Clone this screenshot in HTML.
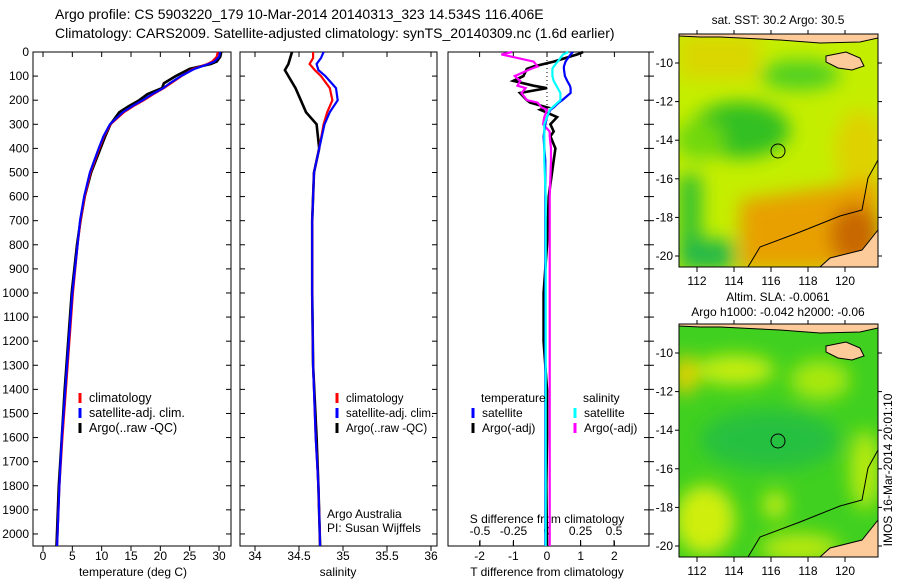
<!DOCTYPE html>
<html><head><meta charset="utf-8">
<style>
body{margin:0;background:#fff;}
svg text{font-family:"Liberation Sans",sans-serif;fill:#000;}
</style></head>
<body>
<svg id="fig" width="900" height="580" viewBox="0 0 900 580" xmlns="http://www.w3.org/2000/svg">
<defs>
<filter id="bl" x="-50%" y="-50%" width="200%" height="200%"><feGaussianBlur stdDeviation="9"/></filter>
<clipPath id="c1"><rect x="679" y="34" width="199" height="233"/></clipPath>
<clipPath id="c2"><rect x="679" y="324" width="199" height="233"/></clipPath>
</defs>
<text x="55" y="19" font-size="14">Argo profile: CS 5903220_179 10-Mar-2014 20140313_323 14.534S 116.406E</text>
<text x="55" y="38" font-size="14">Climatology: CARS2009. Satellite-adjusted climatology: synTS_20140309.nc (1.6d earlier)</text>
<g id="panels"></g>

<g>
<text x="778" y="24" font-size="12" text-anchor="middle">sat. SST: 30.2 Argo: 30.5</text>
<g clip-path="url(#c1)">
<rect x="679" y="34" width="199" height="233" fill="#c4ee00"/>
<g filter="url(#bl)">
<rect x="679" y="34" width="80" height="45" fill="#f0c000" opacity="0.5"/>
<ellipse cx="740" cy="130" rx="50" ry="28" fill="#30c020"/>
<ellipse cx="700" cy="140" rx="25" ry="20" fill="#70d810"/>
<ellipse cx="860" cy="150" rx="25" ry="40" fill="#f0c000" opacity="0.6"/>
<path d="M740 200 L880 180 L880 270 L740 270 Z" fill="#e8a000"/>
<ellipse cx="855" cy="235" rx="25" ry="30" fill="#c86800"/>
<rect x="679" y="175" width="22" height="95" fill="#30c030"/>
<rect x="679" y="240" width="55" height="30" fill="#20b848"/>
<ellipse cx="800" cy="75" rx="40" ry="15" fill="#50d020"/>
</g>
<path d="M679 34 L878 34 L878 38 L860 42 L820 43 L780 40 L760 39 L720 37 L700 37 L679 36Z" fill="#fccb99" stroke="#000" stroke-width="1"/>
<path d="M826 56 L846 52 L860 58 L864 66 L852 70 L838 68 L826 62Z" fill="#fccb99" stroke="#000" stroke-width="1"/>
<path d="M878 160 L868 178 L862 210 L840 216 L800 232 L760 247 L748 267" fill="none" stroke="#000" stroke-width="1"/>
<path d="M878 230 L862 250 L830 258 L820 267 L878 267Z" fill="#fccb99" stroke="#000" stroke-width="1"/>
</g>
<rect x="679" y="34" width="199" height="233" fill="none" stroke="#000"/>
<circle cx="778" cy="151" r="7" fill="none" stroke="#000"/>
</g>

<g>
<text x="778" y="301" font-size="12" text-anchor="middle">Altim. SLA: -0.0061</text>
<text x="778" y="316" font-size="12" text-anchor="middle">Argo h1000: -0.042 h2000: -0.06</text>
<g clip-path="url(#c2)">
<rect x="679" y="324" width="199" height="233" fill="#40d020"/>
<g filter="url(#bl)">
<ellipse cx="735" cy="370" rx="40" ry="15" fill="#c8ee10"/>
<ellipse cx="685" cy="375" rx="12" ry="20" fill="#e8d000"/>
<ellipse cx="820" cy="380" rx="30" ry="20" fill="#a8e810"/>
<ellipse cx="770" cy="440" rx="70" ry="30" fill="#28c040"/>
<ellipse cx="775" cy="505" rx="12" ry="14" fill="#c8ee10"/>
<ellipse cx="705" cy="520" rx="30" ry="35" fill="#d0ee10"/>
<ellipse cx="800" cy="548" rx="40" ry="15" fill="#b8e810"/>
<ellipse cx="865" cy="470" rx="15" ry="40" fill="#b8ea10"/>
</g>
<path d="M679 324 L878 324 L878 328 L860 332 L820 333 L780 330 L760 329 L720 327 L700 327 L679 326Z" fill="#fccb99" stroke="#000" stroke-width="1"/>
<path d="M826 346 L846 342 L860 348 L864 356 L852 360 L838 358 L826 352Z" fill="#fccb99" stroke="#000" stroke-width="1"/>
<path d="M878 450 L868 468 L862 500 L840 506 L800 522 L760 537 L748 557" fill="none" stroke="#000" stroke-width="1"/>
<path d="M878 520 L862 540 L830 548 L820 557 L878 557Z" fill="#fccb99" stroke="#000" stroke-width="1"/>
</g>
<rect x="679" y="324" width="199" height="233" fill="none" stroke="#000"/>
<circle cx="778" cy="441" r="7" fill="none" stroke="#000"/>
</g>
<text transform="translate(892,470) rotate(-90)" font-size="12" text-anchor="middle">IMOS 16-Mar-2014 20:01:10</text>
<g id="maptick"></g>
</svg>
<script>
const NS='http://www.w3.org/2000/svg';
const P=document.getElementById('panels');
const depthTicks=[0,100,200,300,400,500,600,700,800,900,1000,1100,1200,1300,1400,1500,1600,1700,1800,1900,2000];
const tempTicks=[0,5,10,15,20,25,30];
const salTicks=[34,34.5,35,35.5,36];
const tdTicks=[-2,-1,0,1,2];
const sdTicks=[-0.5,-0.25,0,0.25,0.5];
const sdLabels=['-0.5','-0.25','0','0.25','0.5'];
const lonTicks=[112,114,116,118,120];
const latTicks=[-10,-12,-14,-16,-18,-20];
const tDepth=[0,20,40,50,70,100,130,150,175,200,225,250,300,350,400,500,600,700,800,1000,1200,1400,1600,1800,2050];
const tClim=[29.8,29.6,28.8,28,25.6,23.6,21.8,20.6,18.8,17.2,15.4,13.8,11.5,10.4,9.6,8.1,7.1,6.4,5.9,5.1,4.5,3.9,3.3,2.8,2.4];
const tSat=[30.2,30,29.2,28.2,25.8,23.5,21.6,20.5,18.6,17,15.2,13.6,11.4,10.3,9.5,8,7,6.3,5.9,5,4.4,3.8,3.2,2.8,2.4];
const tArgo=[30.4,30.2,29.6,28.6,25,22.6,20.6,20.3,17.8,16.4,14.6,13,11.5,10.6,9.8,8.2,7.1,6.4,5.8,4.9,4.3,3.7,3.2,2.7,2.3];
const sDepth=[0,25,50,75,100,150,200,250,300,400,500,700,1000,1300,1600,1800,2050];
const sClim=[34.66,34.66,34.62,34.68,34.75,34.85,34.88,34.82,34.78,34.73,34.67,34.65,34.65,34.66,34.69,34.72,34.74];
const sSat=[34.78,34.75,34.70,34.72,34.80,34.92,34.94,34.85,34.79,34.73,34.67,34.65,34.65,34.66,34.69,34.72,34.74];
const sArgo=[34.42,34.40,34.38,34.34,34.38,34.46,34.52,34.58,34.70,34.73,34.67,34.65,34.65,34.66,34.70,34.72,34.74];
const dDepth=[0,10,40,60,70,100,120,140,150,170,200,210,230,240,270,300,330,350,400,450,600,800,1000,1200,1400,1600,1800,2050];
const dTSat=[0.77,0.7,0.55,0.5,0.5,0.53,0.6,0.68,0.7,0.7,0.45,0.35,0.2,0.1,0,-0.05,-0.08,-0.1,-0.08,-0.05,-0.05,-0.05,-0.05,-0.05,-0.05,-0.05,-0.05,-0.05];
const dSSat=[0.16,0.12,0.08,0.05,0.04,0.04,0.05,0.07,0.08,0.1,0.1,0.08,0.04,0.02,0,-0.02,-0.02,-0.02,-0.02,-0.02,-0.01,-0.01,-0.01,-0.01,-0.01,-0.01,-0.01,-0.01];
const dTArgo=[1.07,0.9,0.2,-0.4,-0.6,-0.7,-1.0,-0.4,0,-0.8,-0.6,-0.5,0,-0.2,0.3,0.1,0.2,0.1,0.25,0.2,0.05,0,-0.1,-0.1,0,0,-0.02,0];
const dSArgo=[-0.26,-0.34,-0.1,-0.07,-0.12,-0.24,-0.2,-0.22,-0.16,-0.19,-0.15,-0.07,-0.04,0,-0.02,-0.03,0.02,0.02,0.03,0.03,0.02,0.02,0.02,0.02,0.02,0.02,0.02,0.02];

const Y0=52,Y1=546;
const yD=d=>Y0+d*(Y1-Y0)/2050;
function el(tag,attrs,parent){const e=document.createElementNS(NS,tag);for(const k in attrs)e.setAttribute(k,attrs[k]);(parent||P).appendChild(e);return e;}
function txt(x,y,s,anchor,parent,size){const t=el('text',{x:x,y:y,'font-size':size||12,'text-anchor':anchor||'start'},parent);t.textContent=s;return t;}
function panel(name,x0,x1){
  const g=el('g',{});
  
  
  el('rect',{x:x0,y:Y0,width:x1-x0,height:Y1-Y0,fill:'none',stroke:'#000','stroke-width':1},g);
  return g;
}
function line(g,xs,ds,sx,color,name,w){
  const pts=xs.map((v,i)=>sx(v).toFixed(1)+','+yD(ds[i]).toFixed(1)).join(' ');
  const p=el('polyline',{points:pts,fill:'none',stroke:color,'stroke-width':w||2.2},g);
  
  
}
function legend(g,x,y,color,label,size){
  el('line',{x1:x,y1:y-9,x2:x,y2:y+1,stroke:color,'stroke-width':3},g);
  txt(x+9,y,label,'start',g,size);
}
const sT=v=>43+v*(219-43)/30;
const g1=panel('temperature-panel',33,231);
depthTicks.forEach(d=>{el('line',{x1:33,x2:38,y1:yD(d),y2:yD(d),stroke:'#000'},g1);el('line',{x1:226,x2:231,y1:yD(d),y2:yD(d),stroke:'#000'},g1);txt(29,yD(d)+4,String(d),'end',g1);});
tempTicks.forEach(t=>{el('line',{x1:sT(t),x2:sT(t),y1:Y1,y2:Y1+5,stroke:'#000'},g1);el('line',{x1:sT(t),x2:sT(t),y1:Y0,y2:Y0+5,stroke:'#000'},g1);txt(sT(t),Y1+14,String(t),'middle',g1);});
txt(133,576,'temperature (deg C)','middle',g1);
line(g1,tArgo,tDepth,sT,'#000','temp-argo-line',2.6);
line(g1,tClim,tDepth,sT,'#f00','temp-climatology-line');
line(g1,tSat,tDepth,sT,'#00f','temp-satellite-line');
legend(g1,80,402,'#f00','climatology',12.5);
legend(g1,80,417,'#00f','satellite-adj. clim.',12.5);
legend(g1,80,432,'#000','Argo(..raw -QC)',12.5);
const sS=v=>255+(v-34)*88;
const g2=panel('salinity-panel',240,437);
depthTicks.forEach(d=>{el('line',{x1:240,x2:245,y1:yD(d),y2:yD(d),stroke:'#000'},g2);el('line',{x1:432,x2:437,y1:yD(d),y2:yD(d),stroke:'#000'},g2);});
salTicks.forEach(t=>{el('line',{x1:sS(t),x2:sS(t),y1:Y1,y2:Y1+5,stroke:'#000'},g2);el('line',{x1:sS(t),x2:sS(t),y1:Y0,y2:Y0+5,stroke:'#000'},g2);txt(sS(t),Y1+14,String(t),'middle',g2);});
txt(338,576,'salinity','middle',g2);
line(g2,sArgo,sDepth,sS,'#000','salinity-argo-line',2.6);
line(g2,sClim,sDepth,sS,'#f00','salinity-climatology-line');
line(g2,sSat,sDepth,sS,'#00f','salinity-satellite-line');
legend(g2,337,402,'#f00','climatology',11.5);
legend(g2,337,417,'#00f','satellite-adj. clim.',11.5);
legend(g2,337,432,'#000','Argo(..raw -QC)',11.5);
txt(327,518,'Argo Australia','start',g2);
txt(327,532,'PI: Susan Wijffels','start',g2);
const sTD=v=>547+v*33.7;
const sSD=v=>547+v*134;
const g3=panel('difference-panel',448,649);
depthTicks.forEach(d=>{el('line',{x1:644,x2:649,y1:yD(d),y2:yD(d),stroke:'#000'},g3);el('line',{x1:649,x2:654,y1:yD(d),y2:yD(d),stroke:'#000'},g3);});
tdTicks.forEach(t=>{el('line',{x1:sTD(t),x2:sTD(t),y1:Y1,y2:Y1-5,stroke:'#000'},g3);el('line',{x1:sTD(t),x2:sTD(t),y1:Y0,y2:Y0+5,stroke:'#000'},g3);txt(sTD(t),Y1+14,String(t),'middle',g3);});
sdTicks.forEach((t,i)=>{el('line',{x1:sSD(t),x2:sSD(t),y1:Y1-6,y2:Y1,stroke:'#000'},g3);txt(sSD(t),Y1-11,sdLabels[i],'middle',g3);});
txt(547,523,'S difference from climatology','middle',g3);
txt(547,576,'T difference from climatology','middle',g3);
el('line',{x1:547,x2:547,y1:yD(0),y2:yD(300),stroke:'#000','stroke-dasharray':'1,3'},g3);
line(g3,dTArgo,dDepth,sTD,'#000','tdiff-argo-line',2.6);
line(g3,dSArgo,dDepth,sSD,'#f0f','sdiff-argo-line');
line(g3,dTSat,dDepth,sTD,'#00f','tdiff-satellite-line');
line(g3,dSSat,dDepth,sSD,'#0ff','sdiff-satellite-line');
txt(481,402,'temperature','start',g3);
legend(g3,473,417,'#00f','satellite');
legend(g3,473,432,'#000','Argo(-adj)');
txt(583,402,'salinity','start',g3);
legend(g3,575,417,'#0ff','satellite');
legend(g3,575,432,'#f0f','Argo(-adj)');
const MT=document.getElementById('maptick');
const sLon=v=>697+(v-112)*18.5;
const sLat=(v,top)=>top+29+(-10-v)*19.3;
[34,324].forEach(top=>{
  const bot=top+233;
  lonTicks.forEach(l=>{el('line',{x1:sLon(l),x2:sLon(l),y1:bot,y2:bot+5,stroke:'#000'},MT);el('line',{x1:sLon(l),x2:sLon(l),y1:top-4,y2:top,stroke:'#000'},MT);txt(sLon(l),bot+18,String(l),'middle',MT);});
  latTicks.forEach(l=>{el('line',{x1:675,x2:679,y1:sLat(l,top),y2:sLat(l,top),stroke:'#000'},MT);el('line',{x1:878,x2:882,y1:sLat(l,top),y2:sLat(l,top),stroke:'#000'},MT);txt(673,sLat(l,top)+4,String(l),'end',MT);});
});
</script>
</body></html>
